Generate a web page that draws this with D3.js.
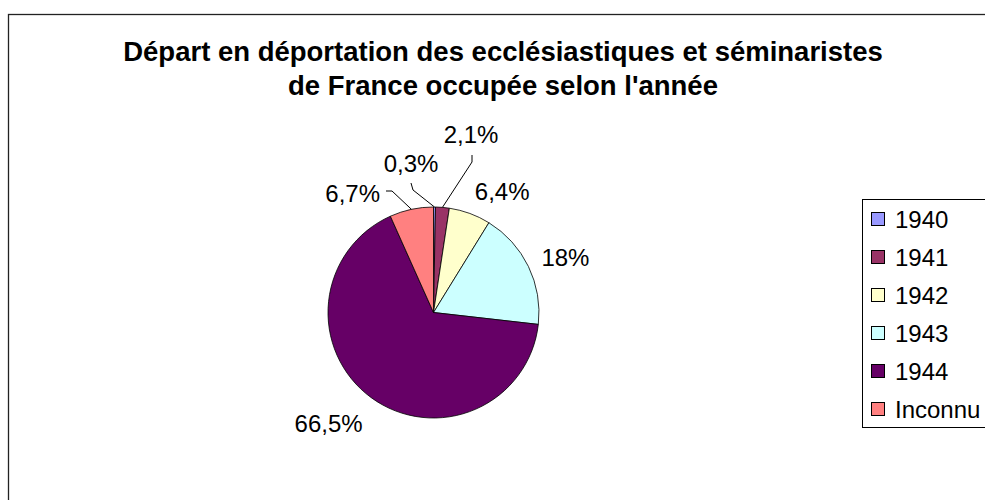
<!DOCTYPE html>
<html>
<head>
<meta charset="utf-8">
<script src="https://cdn.jsdelivr.net/npm/d3@7"></script>
<style>
  body { margin: 0; background: #fff; }
  text { font-family: "Liberation Sans", Arial, sans-serif; }
</style>
</head>
<body>
<div id="chart"></div>
<script>
var w = 985;
var h = 500;

// data
var categories = ["1940", "1941", "1942", "1943", "1944", "Inconnu"];
var values = [0.3, 2.1, 6.4, 18, 66.5, 6.7];
var labels = ["0,3%", "2,1%", "6,4%", "18%", "66,5%", "6,7%"];
var colors = ["#9999ff", "#993366", "#ffffcc", "#ccffff", "#660066", "#ff8080"];
var titleLines = ["Départ en déportation des ecclésiastiques et séminaristes",
                  "de France occupée selon l'année"];

var cx = 433.5, cy = 312.5;
var radius = 105.5;

// labels moved by hand (with leader lines): [label x, label baseline, anchor, line start x, line start y, elbow x, elbow y]
var leaders = {
  0: [411, 172, "middle", 411, 183, 413, 190],
  1: [471, 143, "middle", 472, 155, 472, 162],
  5: [380, 202, "end", 386, 191, 392, 191]
};

var svg = d3.select("#chart")
      .append("svg")
      .attr("width", w)
      .attr("height", h);

// chart frame
svg.append("rect")
  .attr("x", 8.5)
  .attr("y", 14.5)
  .attr("width", w + 20)
  .attr("height", h + 20)
  .attr("fill", "#fff")
  .attr("stroke", "#222")
  .attr("stroke-width", 1.3);

// title
svg.append("text")
  .attr("text-anchor", "middle")
  .attr("font-weight", "bold")
  .attr("font-size", 27.5)
  .selectAll("tspan")
  .data(titleLines)
  .enter()
  .append("tspan")
  .attr("x", 503)
  .attr("y", function(d, i) { return 61 + i * 34; })
  .text(function(d) { return d; });

var pie = d3.pie().sort(null).value(function(d) { return d; });
var arcs = pie(values);

var arc = d3.arc()
      .innerRadius(0)
      .outerRadius(radius);

var g = svg.append("g")
      .attr("transform", "translate(" + cx + "," + cy + ")");

g.selectAll("path.slice")
  .data(arcs)
  .enter()
  .append("path")
  .attr("class", "slice")
  .attr("fill", function(d, i) { return colors[i]; })
  .attr("stroke", "#000")
  .attr("stroke-width", 0.8)
  .attr("d", arc);

// labels
var labelR = radius + 14.5;
var boxH = 20;
arcs.forEach(function(d, i) {
  var a = (d.startAngle + d.endAngle) / 2;
  var sx = Math.sin(a), cy0 = -Math.cos(a);
  var tx, ty, anchor;
  if (leaders[i]) {
    var L = leaders[i];
    tx = L[0] - cx; ty = L[1] - cy; anchor = L[2];
    var px = radius * sx, py = radius * cy0;
    g.append("polyline")
      .attr("points", [[L[3] - cx, L[4] - cy], [L[5] - cx, L[6] - cy], [px, py]].join(" "))
      .attr("fill", "none")
      .attr("stroke", "#000")
      .attr("stroke-width", 1);
  } else {
    var px2 = labelR * sx, py2 = labelR * cy0;
    anchor = sx >= 0 ? "start" : "end";
    var top = py2 - boxH * (1 + Math.cos(a)) / 2;
    if (Math.cos(a) < 0) top = py2 + 3;
    tx = px2;
    ty = top + boxH;
  }
  g.append("text")
    .attr("x", tx)
    .attr("y", ty)
    .attr("text-anchor", anchor)
    .attr("font-size", 24)
    .attr("fill", "#000")
    .text(labels[i]);
});

// legend
var legend = svg.append("g");
legend.append("rect")
  .attr("x", 862.5)
  .attr("y", 199.5)
  .attr("width", 200)
  .attr("height", 228)
  .attr("fill", "#fff")
  .attr("stroke", "#000")
  .attr("stroke-width", 1);

var y = d3.scalePoint()
      .domain(categories)
      .range([219, 409]);

var items = legend.selectAll("g.item")
      .data(categories)
      .enter()
      .append("g")
      .attr("class", "item")
      .attr("transform", function(d) { return "translate(0," + y(d) + ")"; });

items.append("rect")
  .attr("x", 871.5)
  .attr("y", -6.5)
  .attr("width", 13)
  .attr("height", 13)
  .attr("fill", function(d, i) { return colors[i]; })
  .attr("stroke", "#000")
  .attr("stroke-width", 1);

items.append("text")
  .attr("x", 895)
  .attr("y", 8.5)
  .attr("font-size", 24)
  .text(function(d) { return d; });
</script>
</body>
</html>
